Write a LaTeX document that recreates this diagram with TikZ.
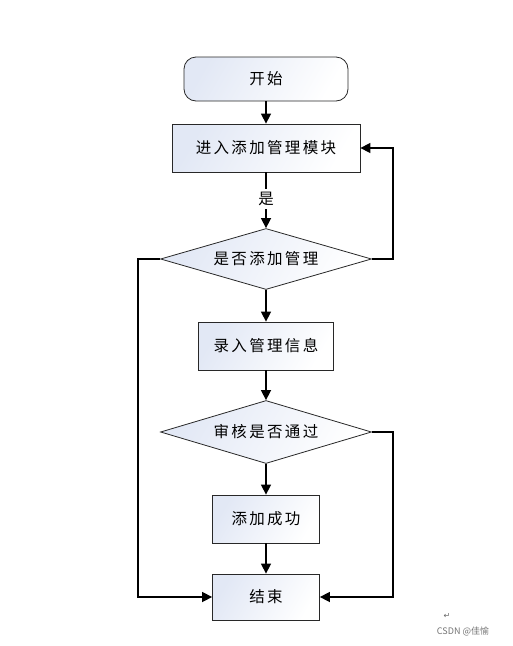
\documentclass[tikz,border=0pt]{standalone}
\usepackage{fontspec}
\newfontfamily\cjk[LetterSpace=15]{Noto Sans CJK SC}
\newfontfamily\cjkw{Noto Sans CJK SC}
\newfontfamily\dejavu{DejaVu Sans}
\usetikzlibrary{shapes.geometric,arrows.meta}
\definecolor{boxblue}{RGB}{226,232,245}
\definecolor{edge}{RGB}{40,40,40}
\begin{document}
\begin{tikzpicture}[x=1pt,y=-1pt,
  base/.style={draw=edge, line width=0.8pt, left color=boxblue, right color=white, shading angle=60,
    font=\cjk\fontsize{15.5}{17}\selectfont, inner sep=0pt, text=black},
  proc/.style={base, rectangle},
  term/.style={base, rounded corners=12pt},
  dec/.style={base, diamond, aspect=3.4},
  arr/.style={line width=1.5pt, -{Triangle[length=10pt,width=10pt]}}]
\useasboundingbox (0,0) rectangle (513,646);
\node[term, minimum width=164pt, minimum height=44pt] (start) at (266,79) {开始};
\node[proc, minimum width=188pt, minimum height=48pt] (enter) at (266,148) {进入添加管理模块};
\node[dec, minimum width=211pt, minimum height=61pt] (d1) at (266,259) {是否添加管理};
\node[proc, minimum width=135pt, minimum height=48pt] (input) at (266,346) {录入管理信息};
\node[dec, minimum width=211pt, minimum height=63pt] (d2) at (266,432) {审核是否通过};
\node[proc, minimum width=107pt, minimum height=48pt] (ok) at (266,519) {添加成功};
\node[proc, minimum width=107pt, minimum height=46pt] (end) at (266,597) {结束};
\node[font=\cjk\fontsize{15.5}{17}\selectfont, text=black] (yes) at (266,199) {是};
\draw[arr] (start) -- (enter);
\draw[line width=1.5pt] (enter) -- (yes);
\draw[arr] (yes) -- (d1.north);
\draw[arr] (d1.south) -- (input);
\draw[arr] (input) -- (d2.north);
\draw[arr] (d2.south) -- (ok);
\draw[arr] (ok) -- (end);
\draw[arr] (d1.east) -- ++(21,0) |- (enter.east);
\draw[arr] (d1.west) -- ++(-22,0) |- (end.west);
\draw[arr] (d2.east) -- ++(21,0) |- (end.east);
\node[font=\dejavu\fontsize{8}{9}\selectfont, text=black!60] (ret) at (447,616) {↵};
\node[font=\cjkw\fontsize{9}{10}\selectfont, text=black!55] (wm) at (463,631) {CSDN @佳愉};
\end{tikzpicture}
\end{document}
